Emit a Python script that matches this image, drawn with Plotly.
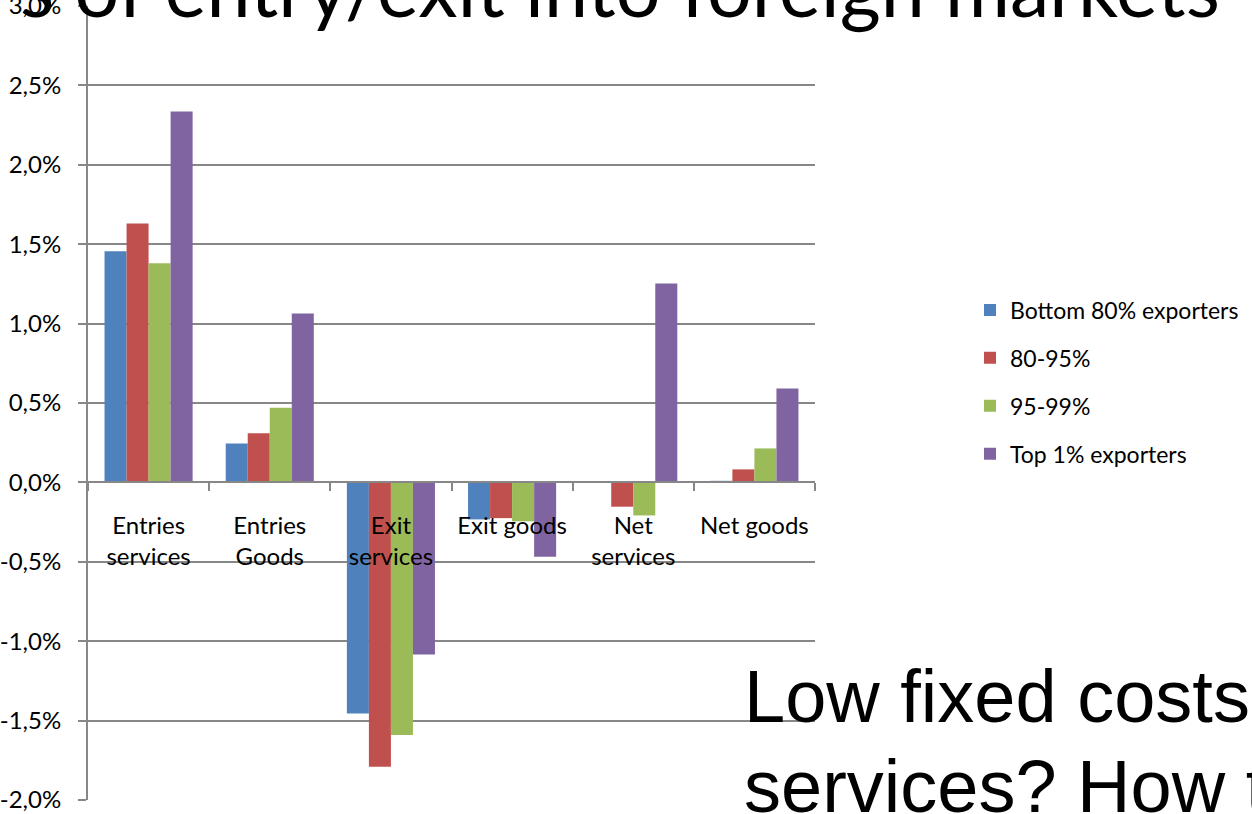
import plotly.graph_objects as go

# Category labels along the x axis
categories = ["Entries<br>services", "Entries<br>Goods", "Exit<br>services",
              "Exit goods", "Net<br>services", "Net goods"]

# Series values, in percent
bottom_80 = [1.455, 0.245, -1.455, -0.233, 0.0, 0.01]
p80_95 = [1.63, 0.31, -1.79, -0.225, -0.153, 0.082]
p95_99 = [1.38, 0.47, -1.59, -0.245, -0.208, 0.214]
top_1 = [2.336, 1.064, -1.083, -0.468, 1.253, 0.592]

series_names = ["Bottom 80% exporters", "80-95%", "95-99%", "Top 1% exporters"]
series_colors = ["#4F81BD", "#C0504D", "#9BBB59", "#8064A2"]

# Y-axis ticks with comma decimals
tick_values = [-2.0, -1.5, -1.0, -0.5, 0.0, 0.5, 1.0, 1.5, 2.0, 2.5, 3.0]
tick_labels = ["-2,0%", "-1,5%", "-1,0%", "-0,5%", "0,0%", "0,5%",
               "1,0%", "1,5%", "2,0%", "2,5%", "3,0%"]

W, H = 1252, 814
L, R, T, B = 88, 815, 6, 800

def px_x(x):
    return (x - L) / (R - L)

def px_y(y):
    return (B - y) / (B - T)

FONT = "Lato"
FS = 24
GRID = "#878787"

fig = go.Figure()
for name, vals, col in zip(series_names, [bottom_80, p80_95, p95_99, top_1], series_colors):
    fig.add_trace(go.Bar(x=categories, y=vals, name=name, legendgroup=name,
                         marker=dict(color=col, line=dict(width=0))))

fig.update_layout(
    width=W, height=H,
    margin=dict(l=L, r=W - R, t=T, b=H - B, pad=0, autoexpand=False),
    paper_bgcolor="white", plot_bgcolor="white",
    barmode="group", bargap=0.273, bargroupgap=0,
    font=dict(family=FONT, size=FS, color="black"),
    showlegend=True,
    legend=dict(x=px_x(970), y=px_y(382), xanchor="left", yanchor="middle",
                font=dict(family=FONT, size=23, color="black"),
                traceorder="grouped", tracegroupgap=15, itemwidth=30,
                borderwidth=0, bgcolor="rgba(0,0,0,0)"),
    xaxis=dict(anchor="free", position=0.4, type="category", automargin=False,
               showline=True, linecolor=GRID, linewidth=2,
               ticks="outside", tickson="boundaries", ticklen=8,
               tickcolor=GRID, tickwidth=1.5, showgrid=False,
               tickfont=dict(family=FONT, size=FS, color="black"),
               ticklabelstandoff=22, layer="above traces"),
    yaxis=dict(range=[-2.0, 3.0001], tickvals=tick_values, ticktext=tick_labels,
               automargin=False,
               showgrid=True, gridcolor=GRID, gridwidth=1.5, zeroline=False,
               showline=True, linecolor=GRID, linewidth=2,
               ticks="outside", ticklen=8, tickcolor=GRID, tickwidth=1.5,
               tickfont=dict(family=FONT, size=FS, color="black"),
               ticklabelstandoff=12, ticklabeloverflow="allow"),
)

# Slide title running across the top
fig.add_annotation(text="s of entry/exit into foreign markets",
                   xref="paper", yref="paper", x=px_x(1222), y=px_y(36),
                   xanchor="right", yanchor="bottom", showarrow=False,
                   font=dict(family=FONT, size=79, color="black"))

# Slide body text in the lower right
fig.add_annotation(text="Low fixed costs", xref="paper", yref="paper",
                   x=px_x(742), y=px_y(740), xanchor="left", yanchor="bottom",
                   showarrow=False,
                   font=dict(family="Liberation Sans", size=74, color="black"))
fig.add_annotation(text="services? How to", xref="paper", yref="paper",
                   x=px_x(742), y=px_y(830), xanchor="left", yanchor="bottom",
                   showarrow=False,
                   font=dict(family="Liberation Sans", size=74, color="black"))

fig.write_html("out.html")
